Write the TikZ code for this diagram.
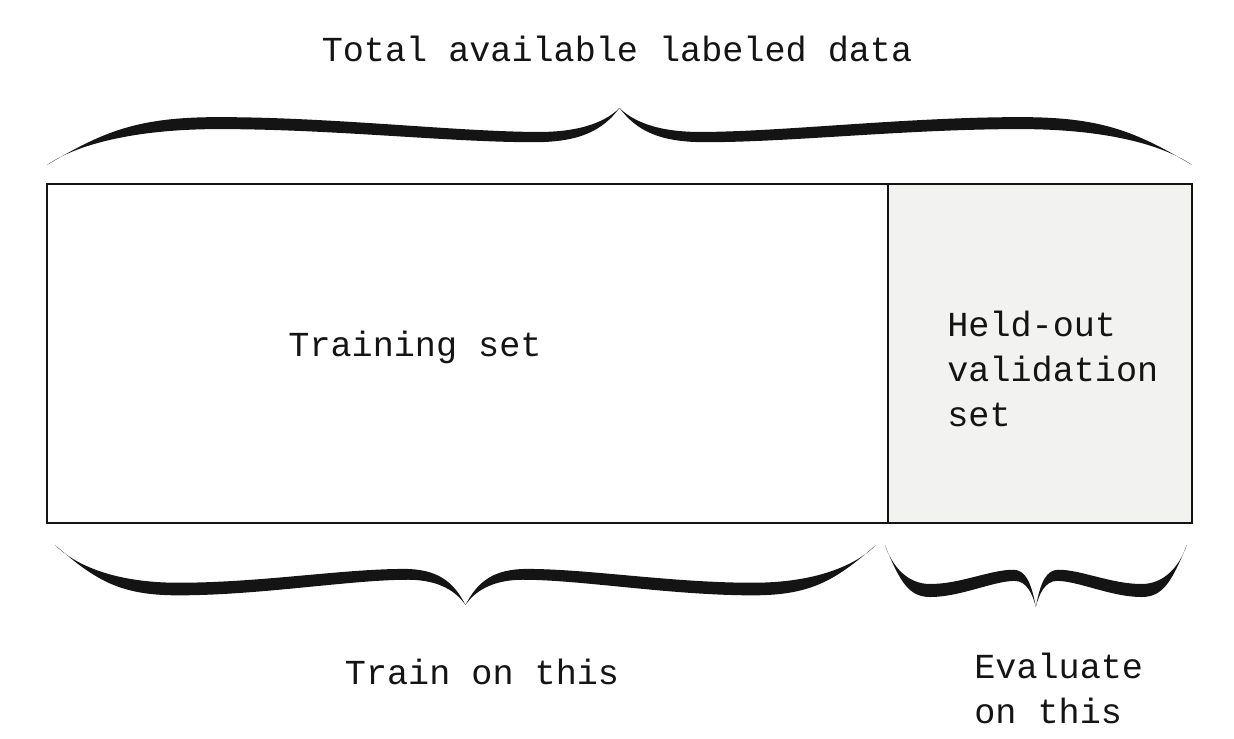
\documentclass[tikz,border=0pt]{standalone}
\usepackage{fontspec}
\setmainfont{Liberation Mono}
\usepackage{tikz}
\usetikzlibrary{calc,positioning}
\definecolor{inkblack}{HTML}{141414}
\definecolor{heldgray}{HTML}{F2F2F0}
\tikzset{
    part/.style={
        rectangle,
        draw=inkblack,
        line width=1pt,
        minimum height=6.78cm,
        inner sep=0pt,
        outer sep=0pt,
    },
    words/.style={
        font=\fontsize{20}{25.6}\selectfont,
        text=inkblack,
        align=left,
        inner sep=0pt,
    },
    brace ink/.style={
        fill=inkblack,
    },
    % hand drawn brace: left end at the pic origin, #1 = width, #2 = height of the tip
    pics/wavy brace/.style 2 args={
        code={
            \fill[brace ink,xscale=#1/2,yscale=-#2]
                (0,0) .. controls (0.1,0.6) and (0.16,0.84) .. (0.3,0.84)
                .. controls (0.5,0.84) and (0.72,0.58) .. (0.86,0.58)
                .. controls (0.94,0.58) and (0.98,0.8) .. (1,1)
                .. controls (1.02,0.8) and (1.06,0.58) .. (1.14,0.58)
                .. controls (1.28,0.58) and (1.5,0.84) .. (1.7,0.84)
                .. controls (1.84,0.84) and (1.9,0.6) .. (2,0)
                .. controls (1.95,0.35) and (1.85,0.63) .. (1.7,0.63)
                .. controls (1.5,0.63) and (1.3,0.4) .. (1.15,0.4)
                .. controls (1.07,0.4) and (1.03,0.6) .. (1,1)
                .. controls (0.97,0.6) and (0.93,0.4) .. (0.85,0.4)
                .. controls (0.7,0.4) and (0.5,0.63) .. (0.3,0.63)
                .. controls (0.15,0.63) and (0.05,0.35) .. (0,0) -- cycle;
        }
    },
}
\begin{document}
\begin{tikzpicture}[x=0.02cm,y=-0.02cm]
        \useasboundingbox (0,0) rectangle (1234,738);
        \node[part,minimum width=16.82cm,anchor=north west](train) at (47,184) {};
        \node[part,minimum width=6.08cm,fill=heldgray,right=0pt of train](valid) {};

        \node[words,anchor=base](trs) at (415,356) {Training set};
        \node[words,anchor=north west](hvs) at (947,311) {Held-out\\validation\\set};

        \pic at ($(train.north west)+(0,-19)$) {wavy brace={1145}{57}};
        \pic at ($(train.south west)+(8,22)$) {wavy brace={821}{-60}};
        \pic at ($(valid.south west)+(-3,22)$) {wavy brace={302}{-62}};

        \node[words,anchor=base](total) at (617,61) {Total available labeled data};
        \node[words,anchor=base](tot) at (482,684) {Train on this};
        \node[words,anchor=north west](eot) at (974,653) {Evaluate\\on this};
    \end{tikzpicture}
\end{document}
